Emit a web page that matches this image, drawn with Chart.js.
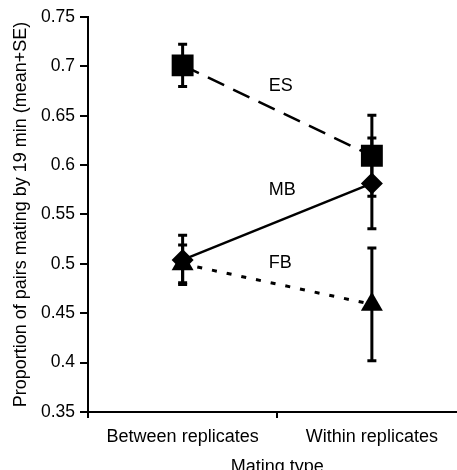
<!DOCTYPE html>
<html>
<head>
<meta charset="utf-8">
<script src="https://cdn.jsdelivr.net/npm/chart.js@4/dist/chart.umd.min.js"></script>
<style>
  html, body { margin: 0; padding: 0; background: #fff; overflow: hidden; }
  canvas { display: block; }
</style>
</head>
<body>
<!-- plot runs a little past the right edge of the window, as in the original figure -->
<canvas id="chart" width="482" height="478"></canvas>
<script>
const categories = ['Between replicates', 'Within replicates'];

const esMean = [0.701, 0.6095];
const esErr = [0.0215, 0.041];
const mbMean = [0.504, 0.5815];
const mbErr = [0.025, 0.046];
const fbMean = [0.500, 0.459];
const fbErr = [0.019, 0.057];

const yTicks = [0.35, 0.4, 0.45, 0.5, 0.55, 0.6, 0.65, 0.7, 0.75];

// line labels: text, x as category index, y as value
const lineLabels = [
    { text: 'ES', x: 0.455, y: 0.6806 },
    { text: 'MB', x: 0.455, y: 0.5748 },
    { text: 'FB', x: 0.455, y: 0.5009 },
];

const FONT = 'Liberation Sans, Arial, Helvetica, sans-serif';

const errorBarPlugin = {
    id: 'errorBars',
    afterDatasetsDraw(chart){
        const {ctx, scales: {x, y}} = chart;
        ctx.save();
        ctx.strokeStyle = '#000';
        ctx.lineWidth = 3;
        chart.data.datasets.forEach(ds => {
            ds.data.forEach((v, i) => {
                const px = x.getPixelForValue(i);
                const top = y.getPixelForValue(v + ds.err[i]);
                const bot = y.getPixelForValue(v - ds.err[i]);
                ctx.beginPath();
                ctx.moveTo(px, top);
                ctx.lineTo(px, bot);
                ctx.moveTo(px - 4.5, top);
                ctx.lineTo(px + 4.5, top);
                ctx.moveTo(px - 4.5, bot);
                ctx.lineTo(px + 4.5, bot);
                ctx.stroke();
            });
        });
        ctx.restore();
    }
};

const lineLabelPlugin = {
    id: 'lineLabels',
    afterDraw(chart){
        const {ctx, scales: {x, y}} = chart;
        const step = x.getPixelForValue(1) - x.getPixelForValue(0);
        ctx.save();
        ctx.fillStyle = '#000';
        ctx.font = '18px ' + FONT;
        ctx.textAlign = 'left';
        ctx.textBaseline = 'middle';
        lineLabels.forEach(l => {
            ctx.fillText(l.text, x.getPixelForValue(0) + l.x * step, y.getPixelForValue(l.y));
        });
        ctx.restore();
    }
};

new Chart(document.getElementById('chart'), {
    type: 'line',
    data: {
        labels: categories,
        datasets: [
            {
                label: 'ES', data: esMean, err: esErr,
                borderColor: '#000', borderWidth: 2.5, borderDash: [18, 10],
                pointStyle: 'rect', pointRadius: 15.5,
                pointBackgroundColor: '#000', pointBorderColor: '#000', pointBorderWidth: 0,
            },
            {
                label: 'MB', data: mbMean, err: mbErr,
                borderColor: '#000', borderWidth: 2.5,
                pointStyle: 'rectRot', pointRadius: 11,
                pointBackgroundColor: '#000', pointBorderColor: '#000', pointBorderWidth: 0,
            },
            {
                label: 'FB', data: fbMean, err: fbErr,
                borderColor: '#000', borderWidth: 3, borderDash: [5, 10],
                pointStyle: 'triangle', pointRadius: 12.7,
                pointBackgroundColor: '#000', pointBorderColor: '#000', pointBorderWidth: 0,
            },
        ]
    },
    options: {
        responsive: false,
        animation: false,
        layout: { padding: { top: 17, right: 3, left: 0, bottom: 0 } },
        plugins: { legend: { display: false }, tooltip: { enabled: false } },
        scales: {
            x: {
                offset: true,
                grid: { offset: true, drawOnChartArea: false, color: '#000', lineWidth: 2, tickLength: 6 },
                border: { display: true, color: '#000', width: 2 },
                ticks: { color: '#000', font: { family: FONT, size: 18 }, padding: 8, maxRotation: 0 },
                title: { display: true, text: 'Mating type', color: '#000', font: { family: FONT, size: 18 }, padding: 0 },
                afterFit(scale){ scale.height = 66; }
            },
            y: {
                min: 0.35, max: 0.75,
                afterBuildTicks(scale){ scale.ticks = yTicks.map(v => ({ value: v })); },
                grid: { drawOnChartArea: false, color: '#000', lineWidth: 2, tickLength: 8 },
                border: { display: true, color: '#000', width: 2 },
                ticks: { color: '#000', font: { family: FONT, size: 17.5 }, padding: 5,
                    callback: v => String(+v.toFixed(2)) },
                title: { display: true, text: 'Proportion of pairs mating by 19 min (mean+SE)', color: '#000', font: { family: FONT, size: 18 }, padding: { top: 10, bottom: 0 } },
                afterFit(scale){ scale.width = 88; }
            }
        }
    },
    plugins: [errorBarPlugin, lineLabelPlugin]
});
</script>
</body>
</html>
